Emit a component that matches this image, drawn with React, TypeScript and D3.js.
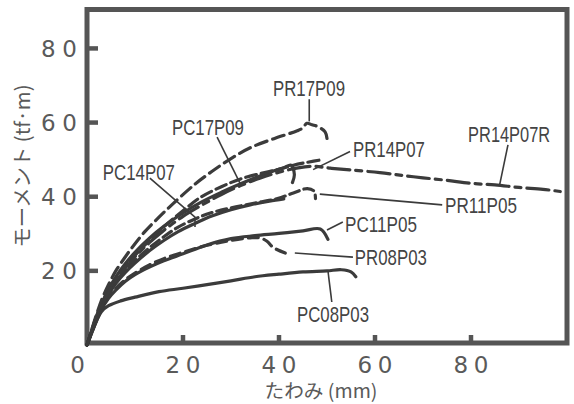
import React from "react";
import * as d3 from "d3";

const W = 574;
const H = 404;

// axis ticks
const xTicks = [0, 20, 40, 60, 80];
const yTicks = [20, 40, 60, 80];

// [deflection (mm), moment (tf·m)]
const pc08p03 = [[0, 0], [1, 3.3], [2, 6.5], [3, 9], [4.5, 10.6], [7, 11.9], [10, 12.9], [15, 14.4], [20, 15.3], [25, 16.3], [30, 17.3], [35, 18.4], [40, 19.1], [45, 19.7], [50, 20], [53, 20.3], [55, 19.7], [56, 18.4]];
const pc11p05 = [[0, 0], [1, 3.4], [2, 6.6], [3, 9.5], [4.5, 12.6], [6, 14.8], [8, 17.2], [10, 19], [13, 21], [16, 22.7], [20, 24.6], [25, 27], [30, 28.7], [35, 29.5], [40, 30.1], [45, 30.8], [48.6, 31.3], [50.2, 28.5]];
const pr08p03 = [[0, 0], [1, 3.5], [2, 6.8], [3, 9.7], [4.5, 12.9], [6, 15.3], [8, 17.6], [10, 19.4], [13, 21.6], [16, 23.3], [20, 25], [25, 26.9], [30, 28.2], [34, 28.9], [36, 28.9], [37.5, 28], [38.8, 26.3], [41.3, 24.8]];
const pc14p07 = [[0, 0], [1, 3.6], [2, 7], [3, 10], [4.5, 13.6], [6, 16.6], [8, 19.6], [10, 22.1], [13, 25.4], [16, 28.2], [19, 30.6], [22.5, 32.8], [26, 34.8], [30, 36.5], [34, 37.8], [38, 38.8], [41, 39.4]];
const pr11p05 = [[0, 0], [1, 3.7], [2, 7.2], [3, 10.3], [4.5, 14], [6, 17.1], [8, 20.2], [10, 22.8], [13, 26.2], [16, 29.2], [19, 31.8], [22.5, 34], [25.7, 35.6], [30, 37], [35, 38.3], [39.7, 39.5], [43, 41], [45.9, 42.2], [47.3, 41.5], [47.6, 39.5]];
const pc17p09 = [[0, 0], [1, 4], [2, 7.8], [3, 11], [4.5, 15], [6, 18.4], [8, 22], [10, 25], [13, 28.8], [16, 32], [20, 35.6], [23.6, 38.4], [28, 41.2], [32, 43.5], [36, 45.6], [39, 47], [41, 47.8], [42.5, 48.5], [43.2, 46], [42.8, 43.8]];
const pr14p07 = [[0, 0], [1, 4], [2, 7.8], [3, 11], [4.5, 14.8], [6, 17.8], [8, 21.2], [10, 24.2], [13, 28.2], [16, 31.9], [20, 36.2], [23.6, 39.8], [28, 42.7], [32, 44.8], [36, 46.2], [40, 47.4], [43, 48.5], [46, 49.3], [49, 50]];
const pr14p07r = [[0, 0], [1, 3.8], [2, 7.4], [3, 10.5], [4.5, 14.3], [6, 17.4], [8, 20.8], [10, 23.8], [13, 27.6], [16, 30.9], [20, 34.7], [24, 37.8], [28, 40.6], [32, 43], [36, 45], [40, 46.6], [44, 47.8], [47, 48.2], [50.7, 47.7], [55, 47.2], [61, 46.5], [66, 45.7], [70, 45.1], [75, 44.4], [80, 43.6], [85, 43.2], [90, 42.5], [95, 42], [98.6, 41.4]];
const pr17p09 = [[0, 0], [1, 4.2], [2, 8.3], [3, 12], [4.5, 16.3], [6, 20], [8, 23.8], [9.4, 26.3], [12, 30.5], [15, 34.5], [18, 38.2], [22.6, 43.5], [26, 46.8], [30, 50.3], [34, 53.2], [38.8, 55.6], [43.8, 57.8], [45, 58.6], [45.8, 59.8], [46.9, 59.4], [48.1, 58.9], [49.6, 57.5], [50, 55.7]];

const series = [
  { name: "PC08P03", values: pc08p03 },
  { name: "PC11P05", values: pc11p05 },
  { name: "PR08P03", values: pr08p03 },
  { name: "PC14P07", values: pc14p07 },
  { name: "PR11P05", values: pr11p05 },
  { name: "PC17P09", values: pc17p09 },
  { name: "PR14P07", values: pr14p07 },
  { name: "PR14P07R", values: pr14p07r },
  { name: "PR17P09", values: pr17p09 },
];

// label text position and leader path, in data units
const labels = [
  { name: "PR17P09", at: [38.75, 67.2], leader: [[46.3, 66.3], [46.3, 60.3]] },
  { name: "PC17P09", at: [17.7, 56.6], leader: [[27.1, 56.1], [31.9, 43.6]] },
  { name: "PC14P07", at: [3.3, 44.5], leader: [[13.1, 45], [22.5, 34.5], [22.5, 31.8]] },
  { name: "PR14P07", at: [55.4, 50.7], leader: [[54.8, 52.2], [47.1, 47.3]] },
  { name: "PR14P07R", at: [79.4, 54.8], leader: [[87.7, 54], [86, 43.4]] },
  { name: "PR11P05", at: [74.6, 35.6], leader: [[74, 37.8], [48.5, 40.7]] },
  { name: "PC11P05", at: [53.75, 30.5], leader: [[53.3, 33.2], [50, 31]] },
  { name: "PR08P03", at: [55.8, 21.6], leader: [[55.4, 23.7], [43.3, 24.8]] },
  { name: "PC08P03", at: [43.75, 6.2], leader: [[51, 11.6], [50.2, 20]] },
];

const dash = {
  PC08P03: null,
  PC11P05: null,
  PR08P03: "10 6",
  PC14P07: null,
  PR11P05: "10 5",
  PC17P09: null,
  PR14P07: "11 5",
  PR14P07R: "22 6 6 6",
  PR17P09: "12 6",
};

const ink = "#3b3b3b";
const frameInk = "#555";
const textInk = "#5a5a5a";

export default function App() {
  const x = d3.scaleLinear().domain([0, 100]).range([87, 567]);
  const y = d3.scaleLinear().domain([0, 90.5]).range([345, 9.5]);

  const line = d3
    .line()
    .x(d => x(d[0]))
    .y(d => y(d[1]))
    .curve(d3.curveCatmullRom.alpha(0.5));

  const leader = d3
    .line()
    .x(d => x(d[0]))
    .y(d => y(d[1]));

  const bottom = y(0) - 2;

  return (
    <svg
      width={W}
      height={H}
      style={{ position: "absolute", left: 0, top: 0, background: "#fff" }}
    >
      {/* plot frame */}
      <rect
        x={x(0)}
        y={y(90.5)}
        width={x(100) - x(0)}
        height={bottom - y(90.5)}
        fill="none"
        stroke={frameInk}
        strokeWidth={5}
      />

      {/* ticks */}
      {yTicks.map(t => (
        <line key={"yt" + t} x1={x(0)} x2={x(0) + 11} y1={y(t)} y2={y(t)} stroke={frameInk} strokeWidth={4.5} />
      ))}
      {xTicks.slice(1).map(t => (
        <line key={"xt" + t} x1={x(t)} x2={x(t)} y1={bottom} y2={bottom - 8} stroke={frameInk} strokeWidth={4.5} />
      ))}

      {/* tick labels */}
      {yTicks.map(t => (
        <text
          key={"yl" + t}
          x={77}
          y={y(t) + 8.5}
          textAnchor="end"
          fontFamily="DejaVu Sans"
          fontSize={23}
          fill={textInk}
          textLength={36}
          lengthAdjust="spacing"
        >
          {t}
        </text>
      ))}
      {xTicks.map(t => (
        <text
          key={"xl" + t}
          x={t === 0 ? 77.5 : x(t)}
          y={373}
          textAnchor="middle"
          fontFamily="DejaVu Sans"
          fontSize={23}
          fill={textInk}
          textLength={t === 0 ? undefined : 35}
          lengthAdjust="spacing"
        >
          {t}
        </text>
      ))}

      {/* axis titles */}
      <text
        transform={`translate(30, 166) rotate(-90)`}
        textAnchor="middle"
        fontFamily="Noto Sans CJK JP"
        fontSize={20}
        fill={textInk}
        textLength={163}
        lengthAdjust="spacingAndGlyphs"
      >
        モーメント (tf·m)
      </text>
      <text
        x={321}
        y={398}
        textAnchor="middle"
        fontFamily="Noto Sans CJK JP"
        fontSize={19}
        fill={textInk}
        textLength={113}
        lengthAdjust="spacingAndGlyphs"
      >
        たわみ (mm)
      </text>

      {/* curves */}
      {series.map(s => (
        <path
          key={s.name}
          d={line(s.values)}
          fill="none"
          stroke={ink}
          strokeWidth={3.2}
          strokeDasharray={dash[s.name] || undefined}
          strokeLinecap="round"
          strokeLinejoin="round"
        />
      ))}

      {/* labels with leaders; narrow tall lettering via vertical stretch */}
      {labels.map(l => (
        <g key={"lab" + l.name}>
          <path d={leader(l.leader)} fill="none" stroke={ink} strokeWidth={1.6} />
          <text
            transform={`translate(${x(l.at[0])}, ${y(l.at[1])}) scale(1, 1.4)`}
            fontFamily="Liberation Sans"
            fontSize={16}
            fill="#444"
            textLength={l.name.length > 7 ? 82 : 72}
            lengthAdjust="spacingAndGlyphs"
          >
            {l.name}
          </text>
        </g>
      ))}
    </svg>
  );
}
